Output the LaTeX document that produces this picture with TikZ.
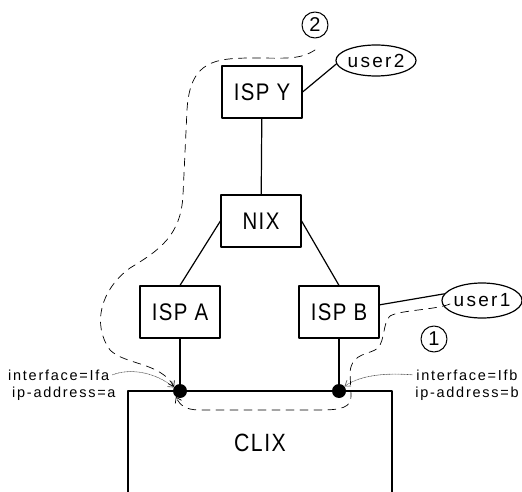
\documentclass[tikz,border=0pt]{standalone}
\usepackage{fontspec}
\setmainfont{Liberation Sans}
\newfontfamily\boxfont[FakeStretch=0.85,LetterSpace=6]{Liberation Sans}
\newfontfamily\lblfont[LetterSpace=12]{Liberation Sans}
\usetikzlibrary{shapes.geometric,arrows.meta}

\begin{document}
\begin{tikzpicture}[x=1pt, y=-1pt, line cap=round, line join=round]
  \tikzset{box/.style={draw=black, line width=1.2pt, minimum width=80pt, minimum height=52pt, inner sep=0pt, font=\boxfont\fontsize{24}{26}\selectfont},
    user/.style={draw=black, line width=1.2pt, ellipse, inner sep=0pt, font=\lblfont\fontsize{19}{21}\selectfont},
    port/.style={circle, fill=black, minimum size=14pt, inner sep=0pt},
    link/.style={draw=black, line width=1.2pt},
    route/.style={draw=black, line width=.7pt, dash pattern=on 8pt off 6pt, -{Straight Barb[length=5pt,width=7pt]}},
    pointer/.style={draw=black!70, line width=.6pt, dash pattern=on .6pt off .9pt, -{Straight Barb[length=5pt,width=7pt]}},
    tag/.style={font=\lblfont\fontsize{14.5}{16}\selectfont, inner sep=0pt},
    circled/.style={draw=black, circle, line width=1pt, minimum size=26pt, inner sep=0pt, font=\fontsize{20}{20}\selectfont}}
  \useasboundingbox (0,0) rectangle (522,492);

  % routers and the two customers
  \node[box] (ispy) at (262,92) {ISP Y};
  \node[box] (nix) at (261,221) {NIX};
  \node[box] (ispa) at (180,312) {ISP A};
  \node[box] (ispb) at (339,312) {ISP B};
  \node[user, minimum width=68pt, minimum height=31pt] (user2) at (376,60.5) {user2};
  \node[user, minimum width=78pt, minimum height=35pt] (user1) at (482,300.5) {user1};

  % exchange box, open at the bottom, with its two ports
  \draw[link] (128,492) |- (392,391) -- (392,492);
  \node[font=\boxfont\fontsize{25}{27}\selectfont] (clix) at (260,443) {CLIX};
  \node[port] (pa) at (180,391) {};
  \node[port] (pb) at (339,391) {};

  \draw[link] (ispy) -- (nix);
  \draw[link] (nix.west) -- (ispa.north);
  \draw[link] (nix.east) -- (ispb.north);
  \draw[link] (ispa) -- (pa);
  \draw[link] (ispb) -- (pb);
  \draw[link] (ispy.east) -- (user2.185);
  \draw[link] (ispb.10) -- (user1.170);

  % port labels
  \node[tag, anchor=base west] (lfa) at (8,380) {interface=Ifa};
  \node[tag, anchor=base west] (lipa) at (12,397) {ip-address=a};
  \node[tag, anchor=base] (lfb) at (467,380) {interface=Ifb};
  \node[tag, anchor=base] (lipb) at (467,397) {ip-address=b};
  \draw[pointer] ([xshift=3pt]lfa.east) .. controls (130,368) and (155,372) .. (pa.150);
  \draw[pointer] ([xshift=-4pt]lfb.west) .. controls (390,373) and (362,374) .. (pb.40);

  % traffic paths (1) and (2)
  \node[circled] (n2) at (315,25) {2};
  \node[circled] (n1) at (434,339) {1};
  \coordinate (r2s) at (315,50);
  \coordinate (r1s) at (450,304);
  \draw[route] (r2s) .. controls (300,60) and (285,58) .. (255,58)
    .. controls (215,58) and (190,60) .. (187,110) -- (183,195)
    .. controls (181,235) and (160,250) .. (130,268)
    .. controls (100,290) and (92,325) .. (110,350)
    .. controls (125,365) and (160,362) .. (pa.145);
  \draw[route] (r1s) .. controls (435,310) and (400,310) .. (390,316)
    .. controls (383,322) and (385,340) .. (378,348)
    .. controls (370,355) and (352,352) .. (350,372) -- (351,395)
    .. controls (352,408) and (340,410) .. (320,410) -- (200,410)
    .. controls (185,410) and (180,405) .. (pa.235);
\end{tikzpicture}
\end{document}
